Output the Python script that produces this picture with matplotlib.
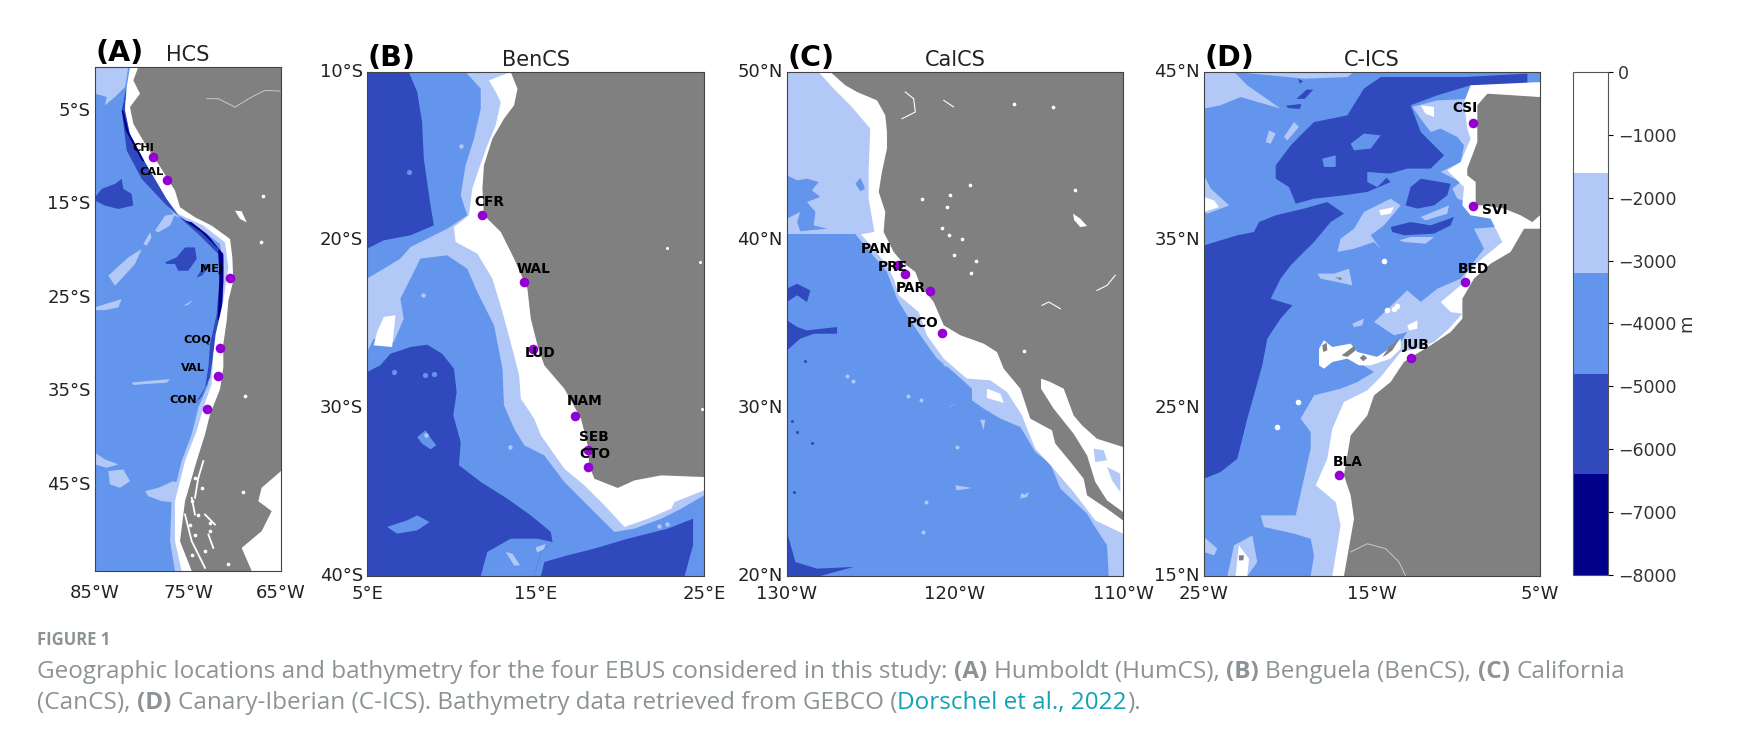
import matplotlib
matplotlib.use("Agg")
import matplotlib.pyplot as plt
from matplotlib.colors import ListedColormap, BoundaryNorm
from matplotlib.cm import ScalarMappable
from matplotlib.transforms import ScaledTranslation

WIDTH, HEIGHT = 1744, 740

# colours of the depth classes, deep to shallow
DEPTH_LEVELS = [-8000, -6400, -4800, -3200, -1600, 0]
DEPTH_COLORS = ["#00008B", "#3049BD", "#6495ED", "#B2C9F7", "#FFFFFF"]
DARK, DEEP, MID, LIGHT, WHITE = DEPTH_COLORS
LAND = "#808080"
STATION = "#9400D3"

# ---- panel A, Humboldt ----
A_STATIONS = ["CHI", "CAL", "MEJ", "COQ", "VAL", "CON"]
A_LON = [-78.76, -77.29, -70.48, -71.52, -71.74, -72.99]
A_LAT = [-9.91, -12.34, -22.84, -30.37, -33.37, -36.84]
A_LABEL_LON = [-79.8, -78.91, -72.46, -73.96, -74.43, -75.47]
A_LABEL_LAT = [-8.98, -11.51, -21.94, -29.48, -32.44, -35.91]

A_LAND = [(-80.34, -0.3), (-80.88, -1.73), (-80.16, -3.16), (-81.24, -4.59), (-80.88, -6.37),
          (-79.62, -8.51), (-78.19, -10.66), (-76.4, -13.51), (-75.86, -15.3), (-74.25, -16.37),
          (-72.46, -17.26), (-70.48, -18.69), (-70.23, -20.66), (-70.13, -23.16), (-70.66, -25.3),
          (-70.84, -27.44), (-71.2, -29.94), (-71.2, -32.44), (-71.56, -34.76), (-72.63, -37.44),
          (-73.17, -39.59), (-74.07, -42.44), (-75.32, -46.73), (-75.86, -51.01), (-74.6, -54.2),
          (-68.15, -54.2), (-69.23, -51.73), (-67.08, -49.94), (-66, -47.8), (-67.44, -46.73),
          (-67.08, -45.3), (-65, -43.51), (-65, -0.3)]
A_SHELF = [(-81.24, -0.3), (-81.59, -2.44), (-81.77, -4.94), (-81.24, -7.44), (-79.62, -10.48),
           (-77.29, -14.41), (-76.04, -16.01), (-73.35, -17.26), (-71.02, -19.05), (-70.66, -21.73),
           (-71.2, -25.3), (-72.03, -28.87), (-72.28, -31), (-72.46, -34.23), (-73.35, -36.73),
           (-74.07, -39.23), (-75.32, -42.44), (-76.4, -46.73), (-76.4, -51.01), (-75.68, -54.2),
           (-65, -54.2), (-65, -0.3)]
A_SLOPE = [(-81.95, -3.87), (-81.42, -7.44), (-79.98, -10.66), (-77.83, -14.23), (-76.4, -16.2),
           (-73.89, -17.44), (-71.56, -19.23), (-71.2, -21.73), (-71.45, -25.3), (-72.38, -28.87),
           (-72.63, -31.37), (-72.81, -34.23), (-73.89, -36.73), (-74.6, -39.59), (-75.68, -42.44),
           (-76.76, -46.73), (-76.93, -51.01), (-76.4, -54.2), (-70, -54.2), (-70, -3)]
A_TOP_LIGHT = [(-85, -0.3), (-81.42, -0.3), (-81.77, -2.44), (-82.85, -3.5), (-83.92, -4.41),
               (-83.75, -3.5), (-85, -3.16)]
A_TRENCH = [(-81.59, -2.26), (-82.13, -4.94), (-81.59, -9.23), (-79.98, -12.26), (-77.47, -14.94),
            (-75.32, -16.91), (-73.89, -18.16), (-71.74, -20.3), (-71.56, -22.44), (-71.92, -26.73),
            (-72.63, -29.94), (-72.81, -32.44), (-73.17, -34.59), (-74.25, -36.37), (-73.53, -35.48),
            (-72.63, -33.51), (-72.28, -31), (-71.38, -27.8), (-71.2, -23.51), (-71.2, -20.66),
            (-72.63, -18.51), (-74.6, -17.09), (-76.04, -16.2), (-77.29, -14.41), (-79.44, -10.66),
            (-81.24, -7.44), (-81.77, -4.59)]
A_DARK_S = [(-75.32, -16.73), (-73.53, -17.98), (-71.74, -19.76), (-71.63, -23.16), (-71.81, -27.44),
            (-71.45, -27.09), (-71.2, -23.16), (-71.2, -20.3), (-72.99, -18.16), (-74.6, -16.91)]
A_DARK_N = [(-81.95, -4.94), (-81.42, -7.09), (-79.62, -10.48), (-79.98, -10.3), (-81.7, -7.09),
            (-82.13, -4.94)]
A_BASIN_1 = [(-85, -14.23), (-84.28, -13.34), (-82.85, -12.8), (-82.13, -12.26), (-81.95, -13.34),
             (-81.06, -13.87), (-80.88, -15.12), (-82.49, -15.48), (-83.92, -15.12), (-85, -14.59)]
A_BASIN_2 = [(-77.47, -21.19), (-76.22, -20.66), (-75.32, -19.59), (-74.25, -19.59), (-74.07, -20.84),
             (-74.97, -22.09), (-76.04, -22.09), (-76.4, -21.37), (-77.29, -21.37)]
A_BASIN_3 = [(-74.07, -22.8), (-73.17, -21.37), (-72.63, -21.55), (-73.53, -22.62)]
A_RIDGES = [
    [(-78.55, -17.8), (-77.47, -16.2), (-76.4, -16.01), (-76.93, -17.26), (-78.19, -17.98)],
    [(-79.8, -19.23), (-79.09, -17.98), (-78.91, -18.51), (-79.44, -19.41)],
    [(-83.57, -22.62), (-81.42, -20.66), (-79.98, -19.76), (-80.7, -21.37), (-82.85, -23.69)],
    [(-85, -41.55), (-83.92, -42.27), (-82.49, -42.8), (-83.75, -43.16), (-85, -42.8)],
    [(-83.57, -43.51), (-81.95, -43.34), (-81.24, -44.59), (-82.31, -45.3), (-83.39, -44.94)],
    [(-79.62, -45.66), (-78.19, -45.3), (-76.58, -44.59), (-75.68, -44.94), (-75.86, -46.91),
     (-77.83, -46.73), (-79.27, -46.2)],
    [(-81.06, -34.05), (-79.27, -33.87), (-76.93, -33.69), (-77.29, -34.05), (-80.88, -34.3)],
    [(-75.5, -25.84), (-74.43, -25.2), (-74.97, -25.73)],
    [(-85, -26.01), (-83.92, -25.66), (-82.13, -25.12), (-82.49, -26.01), (-83.92, -26.3), (-85, -26.3)],
]
A_LAKE = [(-69.95, -15.66), (-69.23, -15.73), (-68.69, -16.91), (-69.41, -16.55)]
A_CHANNELS = [
    [(-73.89, -44.23), (-74.25, -46.37)],
    [(-73.35, -42.44), (-73.89, -44.23)],
    [(-75.32, -48.16), (-74.6, -51.01), (-73.17, -53.87)],
    [(-73.17, -48.16), (-72.1, -49.23)],
    [(-74.6, -46.37), (-74.25, -48.16)],
    [(-72.81, -50.3), (-72.28, -51.73)],
]
A_SPECK_LON = [-74.25, -73.53, -74.6, -73.89, -72.63, -74.78, -74.25, -72.63, -73.17, -74.6, -70.66,
               -67.15, -66.9, -69.05, -68.87]
A_SPECK_LAT = [-44.23, -45.3, -46.73, -48.16, -49.05, -49.23, -50.3, -49.94, -52.09, -52.44, -53.5,
               -19.05, -14.05, -45.77, -35.48]
A_BORDER = [(-73, -3.69), (-71.74, -3.69), (-69.95, -4.59), (-68.15, -3.51), (-66.72, -2.8), (-65.1, -2.87)]

# ---- panel B, Benguela ----
B_STATIONS = ["CFR", "WAL", "LUD", "NAM", "SEB", "CTO"]
B_LON = [11.85, 14.33, 14.86, 17.32, 18.1, 18.1]
B_LAT = [-18.53, -22.52, -26.51, -30.5, -32.5, -33.49]
B_LABEL_LON = [12.28, 14.9, 15.28, 17.94, 18.49, 18.51]
B_LABEL_LAT = [-17.74, -21.75, -26.73, -29.6, -31.7, -32.74]

B_DEEP_NW = [(5, -10), (7.48, -10), (7.98, -11.19), (8.27, -12.98), (8.37, -15.16), (8.57, -16.55),
             (8.77, -17.94), (8.97, -19.13), (7.58, -19.72), (5.99, -20.02), (5, -20.52)]
B_DEEP_SW = [(5, -27.86), (5.79, -27.46), (6.39, -26.77), (7.58, -26.37), (8.57, -26.23), (9.46, -26.77),
             (10.16, -27.66), (10.32, -29.05), (10.12, -30.44), (10.56, -32.02), (10.46, -33.41),
             (11.75, -34.4), (13.33, -35.4), (14.72, -36.39), (15.91, -37.38), (16.01, -37.98),
             (15.32, -38.57), (14.92, -40), (5, -40)]
B_DEEP_SE = [(15.32, -40), (15.52, -39.17), (16.9, -38.77), (18.49, -38.37), (20.48, -37.78),
             (22.86, -37.18), (24.35, -36.59), (24.35, -38.17), (23.85, -40)]
B_MID_PATCHES = [
    [(7.98, -31.73), (8.47, -31.33), (8.87, -31.92), (9.11, -32.22), (8.77, -32.46), (8.27, -32.12)],
    [(6.19, -37.08), (7.38, -36.69), (7.98, -36.39), (8.71, -36.79), (7.98, -37.28), (6.79, -37.48)],
    [(11.75, -40), (12.14, -38.57), (13.53, -37.78), (15.12, -37.78), (16.01, -37.98), (15.32, -38.57),
     (14.92, -40)],
]
B_MID_SPECK_LON = [6.59, 8.47, 8.97, 6.19, 7.48]
B_MID_SPECK_LAT = [-27.86, -28.06, -27.96, -20.16, -15.95]
B_SLOPE = [(10.85, -10), (11.75, -10.99), (11.75, -12.18), (11.35, -13.97), (10.85, -15.56), (10.56, -17.34),
           (10.95, -18.53), (9.76, -19.33), (7.58, -20.42), (6.98, -21.11), (5.99, -21.71), (5, -22.3),
           (5, -26.67), (5.4, -25.87), (6.59, -26.07), (7.18, -24.68), (6.98, -23.49), (7.78, -21.9),
           (8.17, -21.11), (9.76, -20.91), (10.95, -21.71), (11.55, -23.1), (12.54, -25.08), (13.04, -27.66),
           (13.13, -29.84), (13.73, -31.23), (14.33, -32.22), (15.52, -32.82), (16.71, -34.4), (17.7, -35.4),
           (18.89, -36.59), (19.68, -37.38), (20.87, -37.18), (22.46, -36.59), (23.65, -35.99), (25, -35.2),
           (25, -10)]
B_LIGHT_PATCHES = [
    [(13.23, -38.57), (13.63, -38.67), (14.09, -39.37), (13.73, -39.37)],
    [(15, -38.3), (15.6, -38.1), (15.5, -38.4), (15.1, -38.6)],
]
B_LIGHT_SPECK_LON = [13.5, 10.56, 8.5, 8.3, 22.3, 22.8]
B_LIGHT_SPECK_LAT = [-32.3, -14.4, -31.6, -23.3, -37.0, -36.9]
B_SHELF = [(13.53, -10), (12.24, -10.5), (12.64, -11.19), (12.94, -11.79), (12.64, -13.17), (12.14, -14.37),
           (11.65, -15.75), (11.25, -16.94), (11.05, -18.53), (10.16, -19.23), (10.26, -20.12), (11.55, -20.81),
           (12.44, -22.3), (13.04, -24.29), (13.73, -26.87), (14.03, -28.06), (14.13, -29.44), (14.92, -30.63),
           (15.32, -31.63), (16.71, -33.61), (17.9, -34.6), (19.09, -35.79), (20.28, -37.08), (21.67, -36.59),
           (23.06, -35.99), (23.25, -35.6), (25, -34.9), (25, -10)]
B_WHITE_PATCH = [(6, -24.58), (6.69, -24.48), (6.59, -25.48), (6.49, -26.37), (5.4, -26.27), (5.6, -25.48)]
B_LAND = [(13.53, -10), (13.93, -10.99), (13.73, -11.98), (13.13, -12.78), (12.44, -13.97), (11.94, -15.56),
          (11.85, -16.94), (11.94, -18.53), (12.94, -19.52), (13.73, -21.11), (14.52, -22.9), (14.72, -24.68),
          (15.12, -26.27), (15.52, -27.46), (16.71, -28.85), (17.7, -30.63), (18.1, -32.22), (18.19, -33.41),
          (18.49, -34.21), (19.88, -34.76), (20.87, -34.31), (22.46, -34.01), (25, -34.11), (25, -10)]
B_LAND_SPECK_LON = [22.82, 24.78, 24.9]
B_LAND_SPECK_LAT = [-20.46, -21.31, -30.04]

# ---- panel C, California ----
C_STATIONS = ["PAN", "PRE", "PAR", "PCO"]
C_LON = [-123.41, -122.99, -121.51, -120.79]
C_LAT = [38.53, 37.96, 36.98, 34.48]
C_LABEL_LON = [-124.68, -123.69, -122.62, -121.9]
C_LABEL_LAT = [39.48, 38.39, 37.16, 35.08]

C_NORTH_LIGHT = [(-130, 50), (-124, 50), (-124, 40.34), (-125.93, 40.34), (-130, 40.34)]
C_POCKET_1 = [(-130, 43.85), (-129.4, 43.55), (-128.81, 43.65), (-128.12, 43.45), (-128.51, 42.96),
              (-128.02, 42.56), (-128.81, 42.26), (-128.31, 41.67), (-128.41, 40.87), (-127.62, 40.67),
              (-129.21, 40.52), (-129.4, 41.07), (-129.21, 41.67), (-130, 41.27)]
C_POCKET_2 = [(-125.93, 43.35), (-125.63, 43.69), (-125.34, 43.06), (-125.63, 42.9)]
C_DEEP = [
    [(-130, 37.1), (-129.4, 37.4), (-128.61, 37), (-128.81, 36.31), (-129.4, 36.71), (-130, 36.31)],
    [(-130, 35.22), (-129.4, 34.82), (-128.81, 34.62), (-127.02, 34.82), (-127.02, 34.42), (-128.41, 34.42),
     (-129.21, 34.13), (-130, 33.43)],
    [(-130, 22.62), (-129.5, 20.83), (-128.21, 20.44), (-126.03, 20.54), (-128.02, 20), (-130, 20)],
]
C_LIGHT_BLOBS = [
    [(-119.98, 25.4), (-118.99, 25.24), (-119.9, 25.1)],
    [(-116.21, 24.6), (-115.61, 25), (-115.71, 24.7)],
    [(-120.4, 30.0), (-119.9, 30.3), (-120.3, 30.1)],
    [(-118.5, 29.3), (-118.2, 29.3), (-118.3, 28.7)],
]
C_SLOPE = [(-125.93, 40.34), (-124.05, 38.1), (-123.45, 36.51), (-122.86, 35.52), (-122.06, 34.33),
           (-121.07, 32.94), (-120.08, 32.14), (-118.99, 31.15), (-118.99, 30.46), (-118.29, 29.96),
           (-117.3, 29.37), (-116.11, 28.87), (-115.22, 27.38), (-114.33, 26.69), (-113.73, 25.2),
           (-112.14, 23.71), (-111.75, 23.05), (-110.95, 21.83), (-110.85, 20), (-110, 20), (-110, 50), (-124, 50)]
C_SHELF = [(-128.12, 50), (-127.22, 49.01), (-126.23, 48.02), (-125.04, 46.63), (-125.14, 44.25),
           (-125.14, 42.46), (-124.8, 40.48), (-125.6, 40.34), (-124.84, 39.48), (-124.05, 38.49),
           (-123.65, 37.7), (-123.35, 36.71), (-122.16, 35.71), (-121.67, 34.33), (-120.67, 32.94),
           (-119.29, 31.75), (-117.9, 31.65), (-116.9, 30.95), (-116.01, 29.56), (-115.71, 28.77),
           (-115.22, 27.58), (-114.13, 26.39), (-112.94, 25), (-111.65, 23.31), (-110, 22.52), (-110, 50)]
C_WHITE_PATCH = [(-118.1, 31.15), (-117.3, 30.85), (-117.1, 30.3), (-118.1, 30.6)]
C_LAND = [(-127.42, 50), (-126.53, 49.21), (-125.83, 48.81), (-124.64, 48.31), (-124.15, 47.42),
          (-124.05, 46.43), (-124.05, 45.44), (-124.35, 44.05), (-124.54, 42.86), (-124.15, 41.67),
          (-124.25, 40.48), (-123.65, 39.29), (-123.15, 38.69), (-122.36, 38.1), (-122.06, 37.3),
          (-121.27, 36.31), (-120.67, 34.92), (-119.68, 34.33), (-118.29, 33.83), (-117.5, 33.33),
          (-117.1, 32.34), (-116.11, 31.15), (-115.52, 29.37), (-114.23, 28.67), (-114.03, 27.88),
          (-113.13, 26.79), (-112.34, 25.79), (-112.14, 24.8), (-110.95, 24), (-110, 23.31), (-110, 50)]
C_GULF = [(-114.88, 31.75), (-114.33, 31.55), (-113.53, 31.15), (-112.94, 29.56), (-112.44, 28.97),
          (-111.55, 28.17), (-110, 27.68), (-110, 23.81), (-110.95, 24.5), (-111.65, 25.6), (-112.14, 27.18),
          (-112.94, 28.47), (-114.13, 29.96), (-114.88, 31.15)]
C_GULF_LIGHT = [
    [(-111.75, 27.58), (-111.15, 27.48), (-110.95, 26.89), (-111.65, 26.79)],
    [(-110.95, 26.49), (-110.16, 26.09), (-110.16, 25), (-110.65, 25.69)],
]
C_SALT_LAKE = [(-112.98, 41.57), (-112.54, 41.27), (-112.14, 40.83), (-112.54, 40.77), (-112.9, 41.17)]
C_LAKE_LON = [-114.19, -116.47, -121.96, -120.48, -119.58, -120.08, -119.05, -115.91, -118.73, -120.34,
              -120.77, -120.28, -112.84, -119.09]
C_LAKE_LAT = [47.92, 48.12, 42.46, 41.96, 40.08, 39.13, 38.04, 33.37, 38.73, 40.28, 40.71, 42.66, 42.96, 43.29]
C_RIVERS = [
    [(-111.55, 37), (-110.95, 37.3), (-110.46, 37.9)],
    [(-114.82, 36.11), (-114.42, 36.31), (-113.73, 35.91)],
    [(-123.15, 47.22), (-122.36, 47.62), (-122.46, 48.41), (-122.96, 48.81)],
    [(-120.67, 48.31), (-120.08, 47.92)],
]
C_SPECK_LON = [-116, -121.7, -118.5, -122.8, -122, -119.9, -121.9, -126.4, -126.1, -120.6]
C_SPECK_LAT = [24.8, 24.4, 30.6, 30.7, 30.5, 27.7, 22.6, 31.9, 31.6, 32.6]
C_DEEP_SPECK_LON = [-129.7, -129.4, -128.5, -128.9, -129.6]
C_DEEP_SPECK_LAT = [29.2, 28.6, 27.9, 32.8, 25.0]

# ---- panel D, Canary-Iberian ----
D_STATIONS = ["CSI", "SVI", "BED", "JUB", "BLA"]
D_LON = [-8.97, -8.97, -9.44, -12.7, -16.94]
D_LAT = [41.98, 37, 32.48, 28, 21.01]
D_LABEL_LON = [-9.48, -7.68, -8.97, -12.38, -16.47]
D_LABEL_LAT = [42.86, 36.77, 33.25, 28.77, 21.79]

D_DEEP_W = [(-25, 34.68), (-24.01, 34.98), (-23.02, 35.28), (-22.02, 35.48), (-21.73, 36.07), (-20.73, 36.47),
            (-19.05, 36.87), (-17.66, 37.26), (-16.67, 36.57), (-17.46, 36.07), (-18.45, 34.88), (-19.05, 34.29),
            (-19.84, 33.49), (-20.44, 32.7), (-21.03, 31.51), (-19.74, 31.11), (-20.44, 30.32), (-21.23, 29.13),
            (-21.53, 27.54), (-22.42, 24.37), (-23.02, 21.98), (-24.01, 21.19), (-25, 20.79)]
D_DEEP_N = [(-19.25, 41.23), (-18.45, 42.02), (-16.47, 42.42), (-15.48, 44.01), (-14.48, 44.7), (-9.52, 44.7),
            (-5.75, 44.9), (-5.75, 44.21), (-9.13, 44.21), (-11.11, 43.61), (-12.7, 43.02), (-12.1, 41.43),
            (-10.71, 40.04), (-11.51, 39.25), (-12.9, 39.25), (-14.29, 38.85), (-13.89, 38.45), (-15.28, 37.86),
            (-16.67, 37.66), (-18.45, 37.46), (-19.54, 37.16), (-19.94, 38.15), (-20.73, 38.65), (-20.73, 39.44),
            (-19.84, 40.63)]
D_DEEP_BLOBS = [
    [(-12.7, 38.15), (-12.1, 38.65), (-10.32, 38.35), (-10.52, 37.66), (-11.31, 37.06), (-12.3, 36.87), (-13, 37.06)],
    [(-13.89, 35.77), (-12.7, 36.07), (-11.51, 35.87), (-10.12, 36.37), (-10.32, 35.87), (-11.31, 35.38),
     (-13.1, 35.28), (-13.79, 35.48)],
    [(-19.5, 43.4), (-18.9, 43.95), (-18.5, 43.95), (-19, 43.4)],
    [(-20.1, 43), (-19.2, 43.1), (-19.3, 42.8), (-20, 42.85)],
    [(-19.4, 44.6), (-19.1, 44.45), (-19.3, 44.3)],
]
D_MID_BLOBS = [
    [(-16.27, 40.73), (-15.48, 41.33), (-14.48, 41.23), (-15.08, 40.44), (-16.07, 40.34)],
    [(-17.96, 39.84), (-17.16, 40.04), (-17.16, 39.35), (-17.86, 39.35)],
    [(-15.28, 39.05), (-13.89, 38.95), (-14.68, 38.15), (-15.28, 38.45)],
]
D_LIGHT_BLOBS = [
    [(-25, 45), (-23.21, 45), (-22.42, 44.21), (-20.44, 42.82), (-22.82, 43.51), (-24.01, 43.02), (-25, 42.82)],
    [(-23.21, 45), (-16.07, 45), (-16.47, 44.7), (-19.05, 44.6), (-21.03, 44.8)],
    [(-25, 38.85), (-24.6, 38.06), (-23.51, 37.06), (-24.8, 36.57), (-25, 36.67)],
    [(-12.6, 42.92), (-11.11, 43.31), (-8.83, 43.41), (-8.83, 37.06), (-9.92, 37.46), (-10.22, 38.06),
     (-9.72, 38.45), (-10.91, 39.05), (-9.72, 39.64), (-9.52, 40.63), (-9.92, 41.13), (-10.91, 41.63),
     (-11.51, 41.43), (-12.1, 42.22)],
    [(-18.25, 33), (-17.26, 33), (-16.37, 33.29), (-16.17, 32.3), (-17.06, 32.5), (-18.06, 32.7)],
    [(-17.06, 34.29), (-16.87, 35.08), (-16.07, 35.67), (-15.48, 36.67), (-13.89, 37.46), (-13.29, 37.06),
     (-14.29, 35.87), (-15.08, 35.28), (-14.48, 34.48), (-14.88, 34.88), (-16.07, 34.48)],
    [(-12.1, 36.37), (-10.42, 37.06), (-10.52, 36.57), (-11.81, 36.17)],
    [(-13.39, 34.98), (-12.7, 35.18), (-11.31, 35.18), (-11.81, 34.78), (-13.1, 34.88)],
    [(-21.33, 40.83), (-21.13, 41.53), (-20.73, 41.33), (-21.03, 40.73)],
    [(-20.24, 41.13), (-19.64, 42.02), (-19.35, 41.73), (-20.04, 40.93)],
    [(-25, 17.32), (-24.21, 16.63), (-24.4, 16.23), (-25, 16.43)],
    [(-23.61, 15), (-23.21, 16.83), (-22.12, 17.42), (-21.83, 15.83), (-22.42, 15)],
    [(-16.17, 30.02), (-15.48, 30.32), (-15.58, 29.92), (-16.07, 29.82)],
]
D_SLOPE = [(-8.93, 35.67), (-8.33, 34.48), (-9.72, 32.7), (-11.11, 32.1), (-12.1, 31.31), (-12.9, 32),
           (-14.88, 30.12), (-13.69, 29.33), (-12.9, 29.52), (-13.29, 28.93), (-13.89, 28.53), (-14.88, 27.94),
           (-15.67, 27.64), (-14.88, 27.14), (-15.87, 26.55), (-16.87, 26.15), (-18.45, 25.75), (-19.25, 24.37),
           (-18.65, 23.57), (-18.65, 22.58), (-19.54, 18.61), (-21.63, 18.61), (-21.43, 17.92), (-19.64, 17.52),
           (-18.65, 17.22), (-18.45, 16.23), (-18.65, 15), (-5, 15), (-5, 36)]
D_SHELF = [(-9.13, 44.21), (-9.52, 43.21), (-9.33, 41.63), (-9.13, 41.03), (-9.72, 39.64), (-10.52, 39.15),
           (-9.52, 38.15), (-9.62, 37.06), (-9.13, 36.47), (-7.94, 36.27), (-7.24, 34.88), (-8.33, 33.99),
           (-9.33, 33.1), (-9.72, 32.3), (-10.91, 31.31), (-10.32, 30.71), (-9.62, 30.62), (-10.42, 29.72),
           (-11.31, 28.93), (-12.3, 28.53), (-13.29, 28.33), (-14.48, 26.85), (-15.28, 26.05), (-16.67, 25.36),
           (-17.36, 23.77), (-17.66, 21.98), (-18.35, 20.4), (-17.16, 19.4), (-16.87, 18.02), (-17.36, 15),
           (-5, 15), (-5, 44.4)]
D_WHITE_BLOBS = [
    [(-25, 37.56), (-24.4, 37.36), (-24.11, 36.96), (-25, 36.67)],
    [(-12.1, 43.02), (-11.31, 42.92), (-11.31, 42.32), (-11.81, 42.52)],
    [(-14.58, 36.77), (-13.69, 36.96), (-13.89, 36.57), (-14.48, 36.47)],
    [(-12.9, 29.92), (-12.3, 30.22), (-12.3, 29.72), (-12.8, 29.62)],
    [(-23.12, 15), (-22.92, 16.83), (-22.32, 16.03), (-22.42, 15)],
    [(-18.15, 28.53), (-17.86, 29.03), (-17.36, 28.63), (-16.27, 28.83), (-15.87, 28.33), (-14.68, 28.04),
     (-13.69, 28.73), (-13.29, 29.13), (-13.29, 28.53), (-13.89, 27.94), (-15.08, 27.54), (-15.77, 27.54),
     (-16.47, 27.94), (-17.36, 27.74), (-17.86, 27.34), (-18.15, 27.54)],
]
D_WHITE_SPECK_LON = [-14.3, -14.1, -19.4, -20.65, -13.5, -13.7]
D_WHITE_SPECK_LAT = [33.75, 30.85, 25.35, 23.85, 31.1, 30.9]
D_IBERIA = [(-8.13, 43.71), (-5, 43.51), (-5, 36.47), (-5.46, 36.07), (-6.15, 36.47), (-7.14, 36.87),
            (-8.33, 37.06), (-8.83, 37.06), (-8.83, 38.45), (-9.33, 38.85), (-9.33, 39.25), (-8.73, 40.83),
            (-8.73, 43.02)]
D_AFRICA = [(-5, 35.67), (-5.95, 35.67), (-6.75, 34.29), (-7.94, 33.59), (-8.93, 32.7), (-9.62, 31.51),
            (-9.62, 30.32), (-10.32, 29.52), (-11.51, 28.73), (-12.5, 28.13), (-13.1, 27.74), (-13.89, 26.55),
            (-14.88, 25.75), (-15.28, 24.56), (-16.27, 23.37), (-16.47, 22.18), (-16.67, 20.99), (-16.27, 19.8),
            (-16.07, 18.41), (-16.67, 15), (-5, 15)]
D_ISLANDS = [
    [(-17.96, 28.73), (-17.7, 28.89), (-17.66, 28.43), (-17.9, 28.33)],
    [(-16.81, 28.13), (-16.07, 28.69), (-15.97, 28.43), (-16.47, 28.04)],
    [(-15.73, 27.98), (-15.52, 28.17), (-15.28, 27.98), (-15.52, 27.78)],
    [(-14.38, 28.04), (-13.89, 28.73), (-13.69, 28.83), (-13.39, 29.23), (-13.45, 28.97), (-13.79, 28.43),
     (-14.19, 28.13)],
    [(-17.2, 32.8), (-16.77, 32.74), (-16.87, 32.6)],
    [(-22.92, 16.23), (-22.62, 16.23), (-22.66, 15.93), (-22.92, 15.93)],
]
D_BORDER = [(-16.27, 16.43), (-15.28, 16.92), (-14.19, 16.63), (-13.39, 15.83), (-13, 15)]

# ---- axes ----
PANEL_TITLES = ["HCS", "BenCS", "CalCS", "C-ICS"]
PANEL_TAGS = ["(A)", "(B)", "(C)", "(D)"]
LON_TICKS = [[-85, -75, -65], [5, 15, 25], [-130, -120, -110], [-25, -15, -5]]
LON_LABELS = [["85°W", "75°W", "65°W"], ["5°E", "15°E", "25°E"], ["130°W", "120°W", "110°W"], ["25°W", "15°W", "5°W"]]
LAT_TICKS = [[-45, -35, -25, -15, -5], [-40, -30, -20, -10], [20, 30, 40, 50], [15, 25, 35, 45]]
LAT_LABELS = [["45°S", "35°S", "25°S", "15°S", "5°S"], ["40°S", "30°S", "20°S", "10°S"],
              ["20°N", "30°N", "40°N", "50°N"], ["15°N", "25°N", "35°N", "45°N"]]
LON_LIMITS = [(-85, -65), (5, 25), (-130, -110), (-25, -5)]
LAT_LIMITS = [(-54.2, -0.3), (-40, -10), (20, 50), (15, 45)]
BOXES = [(95, 67, 281, 571), (367, 72, 704, 576), (787, 72, 1123, 576), (1204, 72, 1540, 576)]
BOTTOM_PADS = [9.7, 6.2, 6.2, 6.2]
CBAR_TICKS = [0, -1000, -2000, -3000, -4000, -5000, -6000, -7000, -8000]

CAPTION_1 = [("Geographic locations and bathymetry for the four EBUS considered in this study:", "normal", "#8b9396"),
             ("(A)", "bold", "#8b9396"), ("Humboldt (HumCS),", "normal", "#8b9396"),
             ("(B)", "bold", "#8b9396"), ("Benguela (BenCS),", "normal", "#8b9396"),
             ("(C)", "bold", "#8b9396"), ("California", "normal", "#8b9396")]
CAPTION_2 = [("(CanCS),", "normal", "#8b9396"), ("(D)", "bold", "#8b9396"),
             ("Canary-Iberian (C-ICS). Bathymetry data retrieved from GEBCO (", "normal", "#8b9396")]
CAPTION_LINK = "Dorschel et al., 2022"
CAPTION_SIZE = 17.45


def box_to_rect(box):
    x0, y0, x1, y1 = box
    return [x0 / WIDTH, 1 - y1 / HEIGHT, (x1 - x0) / WIDTH, (y1 - y0) / HEIGHT]


def fill(ax, poly, color):
    ax.fill([p[0] for p in poly], [p[1] for p in poly], color=color, lw=0)


def fill_all(ax, polys, color):
    for poly in polys:
        fill(ax, poly, color)


def trace(ax, line, color, width):
    ax.plot([p[0] for p in line], [p[1] for p in line], color=color, lw=width)


def stations(ax, lon, lat, names, label_lon, label_lat, size):
    ax.scatter(lon, lat, s=48, color=STATION, zorder=5, linewidths=0)
    for name, x, y in zip(names, label_lon, label_lat):
        ax.text(x, y, name, fontsize=size, fontweight="bold", ha="center", va="center", zorder=6)


def caption_line(fig, parts, x, y, size):
    # text is placed one piece after the other, each one measured first
    renderer = fig.canvas.get_renderer()
    for text, weight, color in parts:
        t = fig.text(x / WIDTH, 1 - y / HEIGHT, text, fontsize=size, fontweight=weight, color=color,
                     family="Open Sans", va="baseline")
        x = t.get_window_extent(renderer).x1 + 6.5
    return x


fig = plt.figure(figsize=(WIDTH / 100, HEIGHT / 100), dpi=100)
axes = [fig.add_axes(box_to_rect(b)) for b in BOXES]

for i, ax in enumerate(axes):
    ax.set_facecolor(MID)
    ax.set_xlim(LON_LIMITS[i])
    ax.set_ylim(LAT_LIMITS[i])
    ax.set_xticks(LON_TICKS[i], LON_LABELS[i])
    ax.set_yticks(LAT_TICKS[i], LAT_LABELS[i])
    ax.tick_params(axis="x", length=0, pad=BOTTOM_PADS[i], labelsize=13, labelcolor="#222222")
    ax.tick_params(axis="y", length=0, pad=3, labelsize=13, labelcolor="#222222")
    # the latitude labels sit a little above their position in the original
    for label in ax.get_yticklabels():
        label.set_transform(label.get_transform() + ScaledTranslation(0, 1.5 / 72, fig.dpi_scale_trans))
    ax.set_title(PANEL_TITLES[i], fontsize=15, pad=6, color="#222222")
    ax.set_title(PANEL_TAGS[i], loc="left", fontsize=20.5, fontweight="bold", pad=3)
    for spine in ax.spines.values():
        spine.set_linewidth(0.8)
        spine.set_color("#444444")

# panel A
ax = axes[0]
fill(ax, A_TOP_LIGHT, LIGHT)
fill_all(ax, A_RIDGES, LIGHT)
fill_all(ax, [A_BASIN_1, A_BASIN_2, A_BASIN_3], DEEP)
fill(ax, A_SLOPE, LIGHT)
fill(ax, A_TRENCH, DEEP)
fill(ax, A_DARK_S, DARK)
fill(ax, A_DARK_N, DARK)
fill(ax, A_SHELF, WHITE)
fill(ax, A_LAND, LAND)
fill(ax, A_LAKE, WHITE)
for line in A_CHANNELS:
    trace(ax, line, WHITE, 1.3)
ax.scatter(A_SPECK_LON, A_SPECK_LAT, s=7, color=WHITE, linewidths=0, zorder=3)
trace(ax, A_BORDER, "#c8c8c8", 0.7)
stations(ax, A_LON, A_LAT, A_STATIONS, A_LABEL_LON, A_LABEL_LAT, 8.2)

# panel B
ax = axes[1]
fill_all(ax, [B_DEEP_NW, B_DEEP_SW, B_DEEP_SE], DEEP)
fill_all(ax, B_MID_PATCHES, MID)
ax.scatter(B_MID_SPECK_LON, B_MID_SPECK_LAT, s=14, color=MID, linewidths=0)
ax.scatter(B_LIGHT_SPECK_LON, B_LIGHT_SPECK_LAT, s=10, color=LIGHT, linewidths=0)
fill(ax, B_SLOPE, LIGHT)
fill_all(ax, B_LIGHT_PATCHES, LIGHT)
fill(ax, B_SHELF, WHITE)
fill(ax, B_WHITE_PATCH, WHITE)
fill(ax, B_LAND, LAND)
ax.scatter(B_LAND_SPECK_LON, B_LAND_SPECK_LAT, s=5, color=WHITE, linewidths=0, zorder=3)
stations(ax, B_LON, B_LAT, B_STATIONS, B_LABEL_LON, B_LABEL_LAT, 9.9)

# panel C
ax = axes[2]
fill(ax, C_NORTH_LIGHT, LIGHT)
fill_all(ax, [C_POCKET_1, C_POCKET_2], MID)
fill_all(ax, C_DEEP, DEEP)
fill_all(ax, C_LIGHT_BLOBS, LIGHT)
ax.scatter(C_SPECK_LON, C_SPECK_LAT, s=8, color=LIGHT, linewidths=0)
ax.scatter(C_DEEP_SPECK_LON, C_DEEP_SPECK_LAT, s=5, color=DEEP, linewidths=0)
fill(ax, C_SLOPE, LIGHT)
fill(ax, C_SHELF, WHITE)
fill(ax, C_WHITE_PATCH, WHITE)
fill(ax, C_LAND, LAND)
fill(ax, C_GULF, WHITE)
fill_all(ax, C_GULF_LIGHT, LIGHT)
fill(ax, C_SALT_LAKE, WHITE)
ax.scatter(C_LAKE_LON, C_LAKE_LAT, s=7, color=WHITE, linewidths=0, zorder=3)
for line in C_RIVERS:
    trace(ax, line, WHITE, 0.8)
stations(ax, C_LON, C_LAT, C_STATIONS, C_LABEL_LON, C_LABEL_LAT, 9.9)

# panel D
ax = axes[3]
fill_all(ax, [D_DEEP_W, D_DEEP_N], DEEP)
fill_all(ax, D_DEEP_BLOBS, DEEP)
fill_all(ax, D_MID_BLOBS, MID)
fill_all(ax, D_LIGHT_BLOBS, LIGHT)
fill(ax, D_SLOPE, LIGHT)
fill(ax, D_SHELF, WHITE)
fill_all(ax, D_WHITE_BLOBS, WHITE)
ax.scatter(D_WHITE_SPECK_LON, D_WHITE_SPECK_LAT, s=16, color=WHITE, linewidths=0)
fill_all(ax, [D_IBERIA, D_AFRICA], LAND)
fill_all(ax, D_ISLANDS, LAND)
trace(ax, D_BORDER, "#c8c8c8", 0.7)
stations(ax, D_LON, D_LAT, D_STATIONS, D_LABEL_LON, D_LABEL_LAT, 9.9)

# colorbar
cax = fig.add_axes(box_to_rect((1573, 72, 1608, 575)))
norm = BoundaryNorm(DEPTH_LEVELS, len(DEPTH_COLORS))
cbar = fig.colorbar(ScalarMappable(norm=norm, cmap=ListedColormap(DEPTH_COLORS)), cax=cax,
                    spacing="proportional", ticks=CBAR_TICKS)
cbar.ax.minorticks_off()
cbar.ax.tick_params(labelsize=12.5, length=3.5, width=0.8, labelcolor="#333333")
cbar.set_label("m", fontsize=13, color="#333333", labelpad=1)
cbar.outline.set_linewidth(0.8)
cbar.outline.set_edgecolor("#555555")

# caption
fig.canvas.draw()
fig.text(37 / WIDTH, 1 - 645 / HEIGHT, "FIGURE 1", fontsize=12, fontweight="bold", color="#8b9396",
         family="Open Sans", va="baseline")
caption_line(fig, CAPTION_1, 37, 678, CAPTION_SIZE)
end = caption_line(fig, CAPTION_2, 37, 709, CAPTION_SIZE)
link = fig.text((end - 6.5) / WIDTH, 1 - 709 / HEIGHT, CAPTION_LINK, fontsize=CAPTION_SIZE, color="#11a3b5",
                family="Open Sans", va="baseline")
end = link.get_window_extent(fig.canvas.get_renderer()).x1
fig.text(end / WIDTH, 1 - 709 / HEIGHT, ").", fontsize=CAPTION_SIZE, color="#8b9396", family="Open Sans",
         va="baseline")

fig.savefig("out.png", dpi=100)
